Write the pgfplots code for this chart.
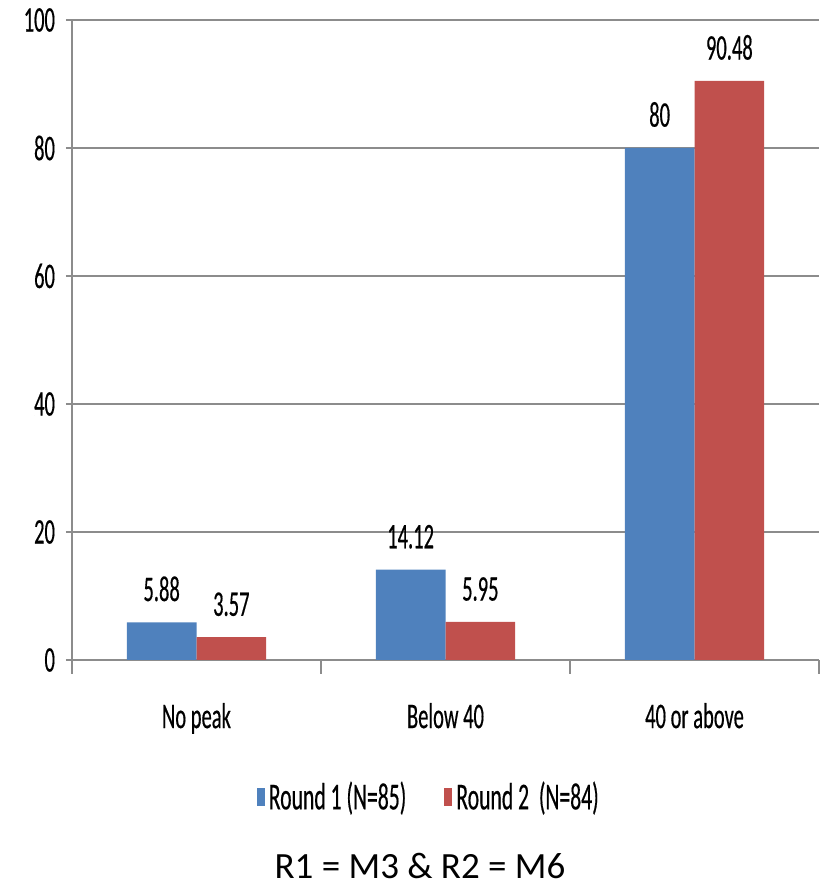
\documentclass[border=0pt]{standalone}
\usepackage{fontspec}
\setmainfont{Carlito}
\newfontfamily\narrowfont[FakeStretch=0.57,FakeBold=0.4]{Carlito}
\usepackage{pgfplots}
\pgfplotsset{compat=1.18}
\definecolor{barblue}{HTML}{4F81BD}
\definecolor{barred}{HTML}{C0504D}
\definecolor{gridgray}{HTML}{8C8C8C}
\begin{document}
\begin{tikzpicture}
\path[use as bounding box] (0,0) rectangle (412.5pt,443pt);
\begin{axis}[
  at={(36pt,113pt)}, anchor=south west,
  scale only axis, width=373.5pt, height=320pt,
  ybar=0pt, bar width=0.28,
  xmin=-0.5, xmax=2.5, ymin=0, ymax=100,
  xtick={0,1,2}, xticklabels={No peak,Below 40,40 or above},
  minor xtick={-0.5,0.5,1.5,2.5},
  ytick={0,20,40,60,80,100},
  axis x line*=bottom, axis y line*=left,
  axis line style={gridgray, line width=0.8pt, -},
  ymajorgrids, grid style={gridgray, line width=0.8pt},
  major x tick style={draw=none},
  minor x tick style={gridgray, line width=0.8pt},
  minor tick length=7pt,
  y tick style={gridgray, line width=0.8pt},
  major tick length=3pt,
  tick align=outside,
  tick label style={font=\narrowfont\fontsize{18}{20}\selectfont, /pgf/number format/assume math mode=true},
  xticklabel style={yshift=-15pt},
  yticklabel style={xshift=-2pt},
  nodes near coords,
  nodes near coords style={font=\narrowfont\fontsize{18}{20}\selectfont, black, yshift=7pt},
  point meta=explicit symbolic,
  legend style={at={(0.479,-0.214)}, anchor=center, draw=none, fill=none,
    font=\narrowfont\fontsize{19}{21}\selectfont,
    /tikz/every even column/.append style={column sep=17pt},
    /tikz/every odd column/.append style={column sep=0pt}},
  legend columns=2,
  legend image code/.code={\fill[#1] (0pt,-4.5pt) rectangle (4pt,4.5pt);},
]
\addplot[fill=barblue, draw=none] coordinates {(0,5.88)[5.88] (1,14.12)[14.12] (2,80)[80]};
\addplot[fill=barred, draw=none] coordinates {(0,3.57)[3.57] (1,5.95)[5.95] (2,90.48)[90.48]};
\legend{Round 1 (N=85), Round 2\ \ (N=84)}
\end{axis}
\node at (210pt,10pt) {\fontsize{18.5}{21}\selectfont R1 = M3 \& R2 = M6};
\end{tikzpicture}
\end{document}
